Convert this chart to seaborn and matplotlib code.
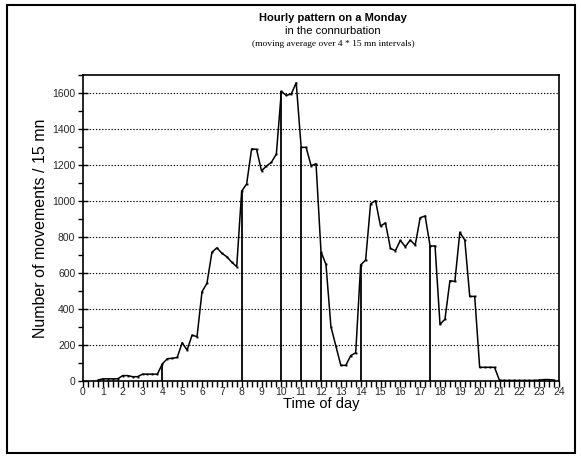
import numpy as np
import pandas as pd
import matplotlib
matplotlib.use("Agg")
import matplotlib.pyplot as plt
import seaborn as sns
from matplotlib.patches import Rectangle
from matplotlib.ticker import MultipleLocator

# ---- data ----
hours = [0.75, 1.0, 1.25, 1.5, 1.75, 2.0, 2.25, 2.5, 2.75, 3.0, 3.25, 3.5, 3.75,
         4.0, 4.25, 4.5, 4.75, 5.0, 5.25, 5.5, 5.75, 6.0, 6.25, 6.5, 6.75,
         7.0, 7.25, 7.5, 7.75, 8.0, 8.25, 8.5, 8.75, 9.0, 9.25, 9.5, 9.75,
         10.0, 10.25, 10.5, 10.75, 11.0, 11.25, 11.5, 11.75, 12.0, 12.25, 12.5, 12.75,
         13.0, 13.25, 13.5, 13.75, 14.0, 14.25, 14.5, 14.75, 15.0, 15.25, 15.5, 15.75,
         16.0, 16.25, 16.5, 16.75, 17.0, 17.25, 17.5, 17.75, 18.0, 18.25, 18.5, 18.75,
         19.0, 19.25, 19.5, 19.75, 20.0, 20.25, 20.5, 20.75, 21.0, 21.25, 21.5, 21.75,
         22.0, 22.25, 22.5, 22.75, 23.0, 23.25, 23.5, 23.75]
movements = [5, 12, 12, 12, 12, 30, 30, 24, 24, 38, 38, 38, 38,
             95, 124, 126, 131, 212, 172, 255, 246, 496, 543, 715, 740,
             710, 690, 660, 635, 1055, 1094, 1289, 1287, 1168, 1194, 1215, 1261,
             1609, 1587, 1594, 1657, 1298, 1298, 1196, 1207, 718, 648, 302, 194,
             87, 87, 141, 157, 645, 672, 985, 1002, 861, 878, 737, 724,
             781, 746, 783, 755, 907, 917, 750, 750, 315, 343, 557, 553,
             826, 783, 470, 470, 76, 76, 76, 76, 3, 3, 3, 3,
             3, 3, 3, 3, 5, 8, 8, 5]
marker_hours = [4.0, 8.0, 10.0, 11.0, 12.0, 14.0, 17.5]
hour_labels = [str(h) for h in range(0, 25)]
title_lines = ["Hourly pattern on a Monday", "in the connurbation",
               "(moving average over 4 * 15 mn intervals)"]

df = pd.DataFrame({"hour": hours, "movements": movements})
lookup = dict(zip(hours, movements))
marker_heights = [lookup[h] for h in marker_hours]

# ---- figure ----
sns.set_theme(style="white")
plt.rcParams["font.family"] = ["Liberation Sans", "DejaVu Sans"]

W, H = 581, 459
fig = plt.figure(figsize=(W / 100, H / 100), dpi=100)
fig.patch.set_facecolor("white")

# outer frame
fig.patches.append(Rectangle((7 / W, 1 - 453 / H), (575 - 7) / W, (453 - 5) / H,
                             transform=fig.transFigure, fill=False,
                             edgecolor="black", linewidth=1.5))

ax = fig.add_axes([83 / W, 1 - 381 / H, (559 - 83) / W, (381 - 75) / H])

ax.yaxis.grid(True, color="black", linestyle=(0, (1.2, 1.6)), linewidth=0.8)
ax.set_axisbelow(True)

sns.lineplot(data=df, x="hour", y="movements", ax=ax, color="black",
             linewidth=1.1, marker="s", markersize=1.4, markeredgewidth=0,
             markerfacecolor="black")
ax.vlines(marker_hours, 0, marker_heights, color="black", linewidth=1.3)

ax.set_xlim(0, 24)
ax.set_ylim(0, 1700)
ax.set_xticks(range(0, 25))
ax.set_xticklabels(hour_labels)
ax.xaxis.set_minor_locator(MultipleLocator(0.25))
ax.set_yticks(range(0, 1601, 200))
ax.yaxis.set_minor_locator(MultipleLocator(100))

# hide gridline at 0
for gl, v in zip(ax.yaxis.get_gridlines(), ax.get_yticks()):
    if v == 0:
        gl.set_visible(False)

ax.tick_params(axis="x", which="both", direction="out", length=4, width=1,
               color="black", labelsize=7.5, pad=0.5, bottom=True)
ax.tick_params(axis="y", which="major", direction="inout", length=7, width=1,
               color="black", labelsize=7.5, pad=2, left=True)
ax.tick_params(axis="y", which="minor", direction="out", length=3.5, width=1,
               color="black", left=True)

for s in ax.spines.values():
    s.set_color("black")
    s.set_linewidth(1.2)

ax.set_xlabel("Time of day", fontsize=10.5, labelpad=0, color="black")
ax.set_ylabel("Number of movements / 15 mn", fontsize=11.5, labelpad=3, color="black")

cx = 333 / W
fig.text(cx, 1 - 18 / H, title_lines[0], ha="center", va="center",
         fontsize=8, fontweight="bold", color="black")
fig.text(cx, 1 - 31 / H, title_lines[1], ha="center", va="center",
         fontsize=8, color="black")
fig.text(cx, 1 - 44 / H, title_lines[2], ha="center", va="center",
         fontsize=6.8, color="black", family=["Liberation Serif", "DejaVu Serif"])

fig.savefig("out.png", dpi=100, facecolor="white")
